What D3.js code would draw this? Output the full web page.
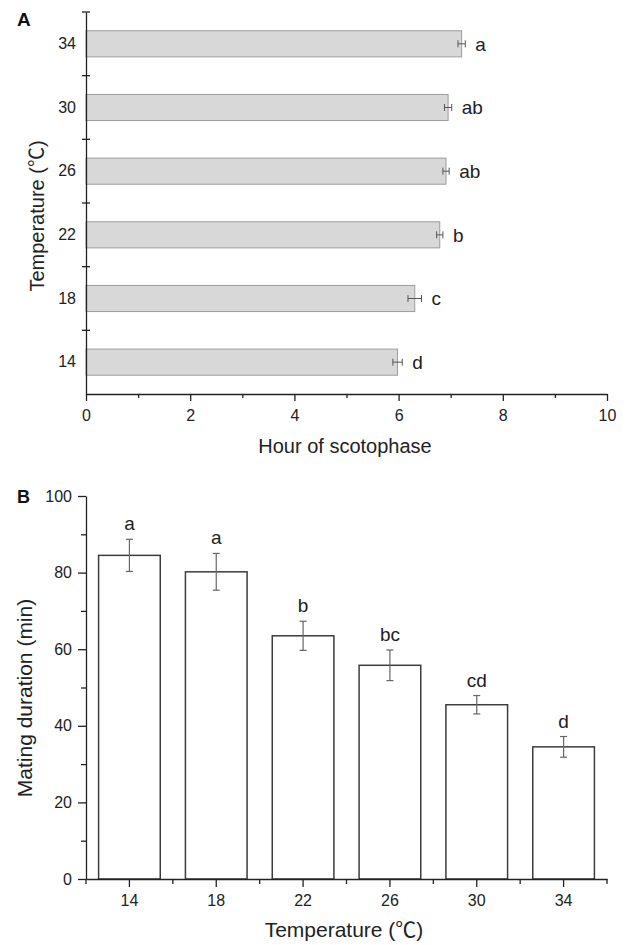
<!DOCTYPE html>
<html>
<head>
<meta charset="utf-8">
<script src="https://d3js.org/d3.v7.min.js"></script>
<style>
  body { margin: 0; background: #fff; }
  svg { display: block; font-family: "Liberation Sans", Arial, "Noto Sans CJK SC", sans-serif; }
  .axis path, .axis line { stroke: #222; stroke-width: 1.3; }
  .axis text { font-size: 16px; fill: #222; }
</style>
</head>
<body>
<svg id="chart"></svg>
<script>
// data
const temps = [14, 18, 22, 26, 30, 34];
const scotophase = [5.98, 6.31, 6.79, 6.91, 6.95, 7.21];
const scotophaseErr = [0.09, 0.13, 0.06, 0.06, 0.07, 0.07];
const scotophaseLetters = ["d", "c", "b", "ab", "ab", "a"];
const mating = [84.5, 80.2, 63.5, 55.8, 45.5, 34.5];
const matingErr = [4.2, 4.8, 3.8, 4.0, 2.4, 2.7];
const matingLetters = ["a", "a", "b", "bc", "cd", "d"];
const hourTicks = [0, 2, 4, 6, 8, 10];
const hourMinor = [1, 3, 5, 7, 9];
const durTicks = [0, 20, 40, 60, 80, 100];
const durMinor = [10, 30, 50, 70, 90];

const width = 626;
const height = 945;

const rowsA = temps.map((t, i) => ({ t: t, v: scotophase[i], e: scotophaseErr[i], l: scotophaseLetters[i] }));
const rowsB = temps.map((t, i) => ({ t: t, v: mating[i], e: matingErr[i], l: matingLetters[i] }));

const svg = d3.select("#chart")
  .attr("width", width)
  .attr("height", height);

// ---------- panel A ----------
const xA = d3.scaleLinear().domain([0, 10]).range([86, 607]);
const yA = d3.scaleBand()
  .domain(temps.slice().reverse())
  .range([12, 394])
  .paddingInner(0.59)
  .paddingOuter(0.295);

const gA = svg.append("g");

gA.selectAll("rect.barA")
  .data(rowsA)
  .enter()
  .append("rect")
  .attr("class", "barA")
  .attr("x", xA(0))
  .attr("y", d => yA(d.t))
  .attr("width", d => xA(d.v) - xA(0))
  .attr("height", yA.bandwidth())
  .attr("fill", "#d8d8d8")
  .attr("stroke", "#9c9c9c")
  .attr("stroke-width", 1);

// error bars
const errA = gA.selectAll("g.errA")
  .data(rowsA)
  .enter()
  .append("g")
  .attr("class", "errA")
  .attr("stroke", "#555")
  .attr("stroke-width", 1);
errA.append("line")
  .attr("x1", d => xA(d.v - d.e)).attr("x2", d => xA(d.v + d.e))
  .attr("y1", d => yA(d.t) + yA.bandwidth() / 2).attr("y2", d => yA(d.t) + yA.bandwidth() / 2);
errA.append("line")
  .attr("x1", d => xA(d.v - d.e)).attr("x2", d => xA(d.v - d.e))
  .attr("y1", d => yA(d.t) + yA.bandwidth() / 2 - 3.5).attr("y2", d => yA(d.t) + yA.bandwidth() / 2 + 3.5);
errA.append("line")
  .attr("x1", d => xA(d.v + d.e)).attr("x2", d => xA(d.v + d.e))
  .attr("y1", d => yA(d.t) + yA.bandwidth() / 2 - 3.5).attr("y2", d => yA(d.t) + yA.bandwidth() / 2 + 3.5);

gA.selectAll("text.letterA")
  .data(rowsA)
  .enter()
  .append("text")
  .attr("class", "letterA")
  .attr("x", d => xA(d.v + d.e) + 10)
  .attr("y", d => yA(d.t) + yA.bandwidth() / 2)
  .attr("dy", "0.36em")
  .attr("font-size", 19)
  .attr("fill", "#222")
  .text(d => d.l);

// x axis A
gA.append("g")
  .attr("class", "axis")
  .attr("transform", "translate(0,394)")
  .call(d3.axisBottom(xA).tickValues(hourTicks).tickSize(7).tickPadding(9).tickSizeOuter(0).tickFormat(d3.format("d")));
gA.append("g")
  .attr("class", "axis")
  .attr("transform", "translate(0,394)")
  .call(d3.axisBottom(xA).tickValues(hourMinor).tickSize(4).tickSizeOuter(0).tickFormat(""))
  .call(g => g.select(".domain").remove());

// y axis A: labels at centres, ticks on band boundaries
gA.append("g")
  .attr("class", "axis")
  .attr("transform", "translate(86,0)")
  .call(d3.axisLeft(yA).tickSize(0).tickPadding(10).tickSizeOuter(0));
const gap = (yA.step() - yA.bandwidth()) / 2;
gA.selectAll("line.tickA")
  .data(temps.slice().reverse())
  .enter()
  .append("line")
  .attr("class", "tickA")
  .attr("x1", xA(0) - 4).attr("x2", xA(0) + 4)
  .attr("y1", d => yA(d) - gap).attr("y2", d => yA(d) - gap)
  .attr("stroke", "#222").attr("stroke-width", 1.3);

gA.append("text")
  .attr("x", 345).attr("y", 453)
  .attr("text-anchor", "middle")
  .attr("font-size", 20)
  .attr("fill", "#222")
  .text("Hour of scotophase");
gA.append("text")
  .attr("transform", "translate(44,216) rotate(-90)")
  .attr("text-anchor", "middle")
  .attr("font-size", 20)
  .attr("fill", "#222")
  .text("Temperature (℃)");
gA.append("text")
  .attr("x", 17).attr("y", 26)
  .attr("font-size", 19)
  .attr("font-weight", "bold")
  .attr("fill", "#111")
  .text("A");

// ---------- panel B ----------
const xB = d3.scaleBand()
  .domain(temps)
  .range([86, 607])
  .paddingInner(0.29)
  .paddingOuter(0.145);
const yB = d3.scaleLinear().domain([0, 100]).range([879, 496]);

const gB = svg.append("g");

gB.selectAll("rect.barB")
  .data(rowsB)
  .enter()
  .append("rect")
  .attr("class", "barB")
  .attr("x", d => xB(d.t))
  .attr("y", d => yB(d.v))
  .attr("width", xB.bandwidth())
  .attr("height", d => yB(0) - yB(d.v))
  .attr("fill", "#fff")
  .attr("stroke", "#3c3c3c")
  .attr("stroke-width", 1.5);

const errB = gB.selectAll("g.errB")
  .data(rowsB)
  .enter()
  .append("g")
  .attr("class", "errB")
  .attr("stroke", "#666")
  .attr("stroke-width", 1.2);
const cx = d => xB(d.t) + xB.bandwidth() / 2;
errB.append("line")
  .attr("x1", cx).attr("x2", cx)
  .attr("y1", d => yB(d.v - d.e)).attr("y2", d => yB(d.v + d.e));
errB.append("line")
  .attr("x1", d => cx(d) - 3.5).attr("x2", d => cx(d) + 3.5)
  .attr("y1", d => yB(d.v - d.e)).attr("y2", d => yB(d.v - d.e));
errB.append("line")
  .attr("x1", d => cx(d) - 3.5).attr("x2", d => cx(d) + 3.5)
  .attr("y1", d => yB(d.v + d.e)).attr("y2", d => yB(d.v + d.e));

gB.selectAll("text.letterB")
  .data(rowsB)
  .enter()
  .append("text")
  .attr("class", "letterB")
  .attr("x", cx)
  .attr("y", d => yB(d.v + d.e) - 9)
  .attr("text-anchor", "middle")
  .attr("font-size", 19)
  .attr("fill", "#222")
  .text(d => d.l);

// x axis B
gB.append("g")
  .attr("class", "axis")
  .attr("transform", "translate(0,879)")
  .call(d3.axisBottom(xB).tickSize(8).tickPadding(8).tickSizeOuter(0));
gB.selectAll("line.tickB")
  .data(temps.concat(["end"]))
  .enter()
  .append("line")
  .attr("class", "tickB")
  .attr("x1", d => d === "end" ? 607 : xB(d) - (xB.step() - xB.bandwidth()) / 2)
  .attr("x2", d => d === "end" ? 607 : xB(d) - (xB.step() - xB.bandwidth()) / 2)
  .attr("y1", 879).attr("y2", 884)
  .attr("stroke", "#222").attr("stroke-width", 1.3);

// y axis B
gB.append("g")
  .attr("class", "axis")
  .attr("transform", "translate(86,0)")
  .call(d3.axisLeft(yB).tickValues(durTicks).tickSize(8).tickPadding(6).tickSizeOuter(0));
gB.append("g")
  .attr("class", "axis")
  .attr("transform", "translate(86,0)")
  .call(d3.axisLeft(yB).tickValues(durMinor).tickSize(5).tickSizeOuter(0).tickFormat(""))
  .call(g => g.select(".domain").remove());

gB.append("text")
  .attr("x", 344).attr("y", 937)
  .attr("text-anchor", "middle")
  .attr("font-size", 21)
  .attr("fill", "#222")
  .text("Temperature (℃)");
gB.append("text")
  .attr("transform", "translate(32,698) rotate(-90)")
  .attr("text-anchor", "middle")
  .attr("font-size", 21)
  .attr("fill", "#222")
  .text("Mating duration (min)");
gB.append("text")
  .attr("x", 17).attr("y", 503)
  .attr("font-size", 18)
  .attr("font-weight", "bold")
  .attr("fill", "#111")
  .text("B");
</script>
</body>
</html>
